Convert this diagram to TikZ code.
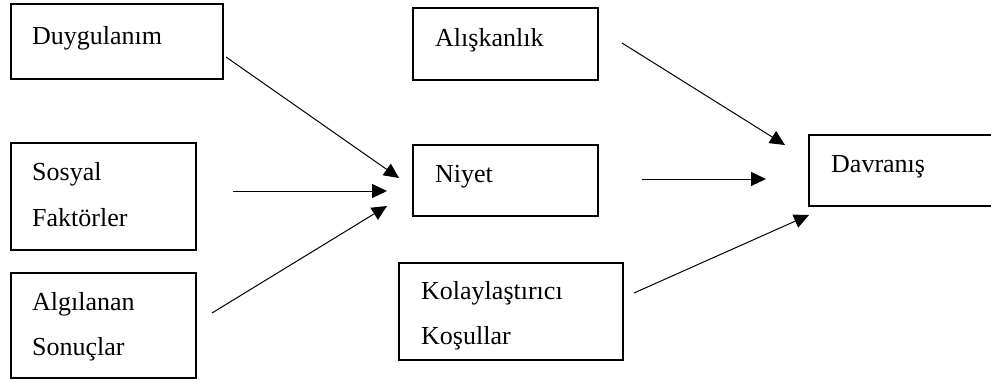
\documentclass[tikz,border=0pt]{standalone}
\usepackage{fontspec}
\setmainfont{Liberation Serif}
\usetikzlibrary{arrows.meta}
\tikzset{
  boxnode/.style={draw=black, line width=2pt, fill=none, inner sep=0pt, outer sep=0pt, anchor=north west},
  txt/.style={anchor=base west, inner sep=0pt, font=\fontsize{26pt}{30pt}\selectfont},
  conn/.style={line width=1pt, -{Triangle[length=15pt, width=14pt]}}
}
\begin{document}
\begin{tikzpicture}[x=1pt, y=-1pt]
\useasboundingbox (0,0) rectangle (991,380);
\clip (0,0) rectangle (991,380);
\fill[white] (0,0) rectangle (991,380);
% boxes
\node[boxnode, minimum width=212pt, minimum height=75pt] (duyg) at (11,4) {};
\node[boxnode, minimum width=185pt, minimum height=107pt] (sosyal) at (11,143) {};
\node[boxnode, minimum width=185pt, minimum height=105pt] (algi) at (11,273) {};
\node[boxnode, minimum width=185pt, minimum height=72pt] (alis) at (413,8) {};
\node[boxnode, minimum width=185pt, minimum height=71pt] (niyet) at (413,145) {};
\node[boxnode, minimum width=224pt, minimum height=97pt] (kolay) at (399,263) {};
\node[boxnode, minimum width=200pt, minimum height=71pt] (davr) at (809,135) {};
% texts
\node[txt] (tduyg) at (32,44) {Duygulanım};
\node[txt] (tsos1) at (32,180) {Sosyal};
\node[txt] (tsos2) at (32,226) {Faktörler};
\node[txt] (talg1) at (32,310) {Algılanan};
\node[txt] (talg2) at (32,355) {Sonuçlar};
\node[txt] (talis) at (435,46) {Alışkanlık};
\node[txt] (tniyet) at (435,182) {Niyet};
\node[txt] (tkol1) at (421,299) {Kolaylaştırıcı};
\node[txt] (tkol2) at (421,344) {Koşullar};
\node[txt] (tdavr) at (831,172) {Davranış};
% connector end points
\coordinate (a1s) at (226,57);  \coordinate (a1e) at (399,178);
\coordinate (a2s) at (233,191); \coordinate (a2e) at (387,191);
\coordinate (a3s) at (212,313); \coordinate (a3e) at (387,206);
\coordinate (a4s) at (622,43);  \coordinate (a4e) at (785,145);
\coordinate (a5s) at (642,179); \coordinate (a5e) at (766,179);
\coordinate (a6s) at (634,293); \coordinate (a6e) at (809,215);
\draw[conn] (a1s) -- (a1e);
\draw[conn] (a2s) -- (a2e);
\draw[conn] (a3s) -- (a3e);
\draw[conn] (a4s) -- (a4e);
\draw[conn] (a5s) -- (a5e);
\draw[conn] (a6s) -- (a6e);
\end{tikzpicture}
\end{document}
